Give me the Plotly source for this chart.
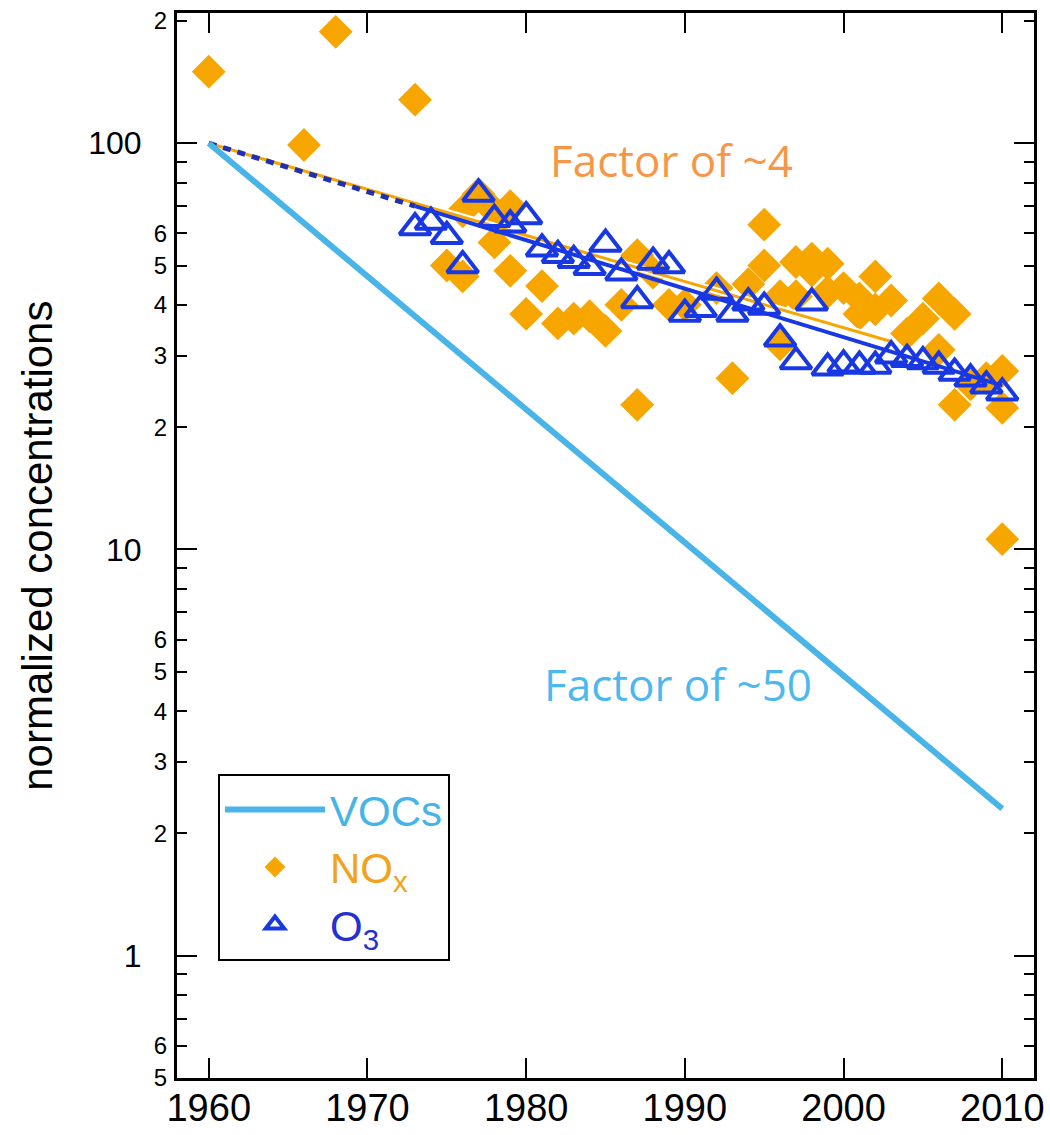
import plotly.graph_objects as go

# ---------------- data ----------------
voc_years = [1960, 2010]
voc_values = [100, 2.3]

nox_years = [1960, 1966, 1968, 1973, 1975, 1976, 1976, 1977, 1978, 1978, 1979, 1979,
             1980, 1981, 1982, 1983, 1984, 1985, 1986, 1987, 1987, 1988, 1989, 1990,
             1992, 1993, 1994, 1995, 1995, 1996, 1996, 1997, 1997, 1998, 1998, 1999,
             1999, 2000, 2001, 2001, 2002, 2002, 2003, 2004, 2005, 2006, 2006, 2007,
             2007, 2008, 2009, 2010, 2010, 2010]
nox_values = [150, 99, 188, 128, 50, 47, 68, 75, 57, 68, 48.5, 70,
              38, 44.5, 36, 37, 37.5, 34.5, 40, 53, 22.7, 48, 40, 40,
              44, 26.4, 45, 63, 50, 42, 32, 51, 42, 48.6, 52, 50.5,
              43, 44, 41.5, 38, 47, 39, 41, 34, 37, 41.5, 31, 38,
              22.7, 25.5, 26.4, 27.5, 22.3, 10.6]

o3_years = [1973, 1974, 1975, 1976, 1977, 1978, 1979, 1980, 1981, 1982, 1983, 1984,
            1985, 1986, 1987, 1988, 1989, 1990, 1991, 1992, 1993, 1994, 1995, 1996,
            1997, 1998, 1999, 2000, 2001, 2002, 2003, 2004, 2005, 2006, 2007, 2008,
            2009, 2010]
o3_values = [62, 64, 59, 50, 75, 65, 63, 66, 55, 53, 51.5, 49.5,
             56.5, 48, 41, 51, 50, 38, 39, 43, 38, 40.5, 39.5, 33,
             29, 40.5, 28, 28.5, 28.3, 28.3, 30, 29.4, 29, 28.3, 27.2, 26.3,
             25.3, 24.3]

nox_fit_years = [1960, 2003]
nox_fit_values = [100, 32.5]
o3_fit_early_years = [1960, 1973]
o3_fit_early_values = [100, 70]
o3_fit_years = [1973, 2010]
o3_fit_values = [70, 25.3]

x_tick_vals = [1960, 1970, 1980, 1990, 2000, 2010]
y_small_label_vals = [0.5, 0.6, 2, 3, 4, 5, 6, 20, 30, 40, 50, 60, 200]
y_small_label_text = ["5", "6", "2", "3", "4", "5", "6", "2", "3", "4", "5", "6", "2"]
y_unlabeled_vals = [0.7, 0.8, 0.9, 7, 8, 9, 70, 80, 90]
y_major_vals = [1, 10, 100]
y_major_text = ["1", "10", "100"]

# ---------------- styles ----------------
C_VOC = "#48B4E8"
C_NOX = "#F7A600"
C_O3 = "#1838E4"
FONT = "Liberation Sans, Arial, sans-serif"

fig = go.Figure()

fig.add_trace(go.Scatter(
    x=voc_years, y=voc_values, mode="lines", yaxis="y2",
    line=dict(color=C_VOC, width=6),
    name='<span style="color:#45B4E6">VOCs</span>', legendrank=1))

fig.add_trace(go.Scatter(
    x=nox_years, y=nox_values, mode="markers",
    marker=dict(symbol="diamond", size=26, color=C_NOX, line=dict(width=0)),
    name='<span style="color:#F2A31E">NO<sub>x</sub></span>', legendrank=2))

fig.add_trace(go.Scatter(
    x=nox_fit_years, y=nox_fit_values, mode="lines",
    line=dict(color="white", width=7), showlegend=False, hoverinfo="skip"))
fig.add_trace(go.Scatter(
    x=nox_fit_years, y=nox_fit_values, mode="lines",
    line=dict(color=C_NOX, width=3), showlegend=False))

fig.add_trace(go.Scatter(
    x=o3_years, y=o3_values, mode="markers",
    marker=dict(symbol="triangle-up-open", size=27, color=C_O3, line=dict(width=4, color=C_O3)),
    name='<span style="color:#2430D0">O<sub>3</sub></span>', legendrank=3))

fig.add_trace(go.Scatter(
    x=o3_fit_years, y=o3_fit_values, mode="lines",
    line=dict(color=C_O3, width=4), showlegend=False))
fig.add_trace(go.Scatter(
    x=o3_fit_early_years, y=o3_fit_early_values, mode="lines",
    line=dict(color="#2030B0", width=5, dash="8px,7px"), showlegend=False))

yrange = [-0.301, 2.3205]

fig.update_layout(
    width=1050, height=1135, autosize=False,
    margin=dict(l=177, r=16, t=13, b=57),
    paper_bgcolor="white", plot_bgcolor="white",
    font=dict(family=FONT, color="black"),
    xaxis=dict(
        range=[1958, 2012], tickmode="array", tickvals=x_tick_vals,
        ticks="inside", ticklen=20, tickwidth=2, tickcolor="black",
        showline=True, linecolor="black", linewidth=3, mirror="ticks",
        showgrid=False, zeroline=False, tickfont=dict(size=38, family=FONT),
        ticklabelstandoff=-6, automargin=False),
    yaxis=dict(
        type="log", range=yrange, tickmode="array",
        tickvals=y_small_label_vals, ticktext=y_small_label_text,
        ticks="inside", ticklen=10, tickwidth=2, tickcolor="black",
        showline=True, linecolor="black", linewidth=3, mirror="ticks",
        showgrid=False, zeroline=False, tickfont=dict(size=24, family=FONT),
        ticklabelstandoff=2, automargin=False,
        minor=dict(tickmode="array", tickvals=y_unlabeled_vals, ticks="inside",
                   ticklen=10, tickwidth=2, tickcolor="black", showgrid=False)),
    yaxis2=dict(
        type="log", range=yrange, overlaying="y", side="left",
        tickmode="array", tickvals=y_major_vals, ticktext=y_major_text,
        ticks="inside", ticklen=20, tickwidth=2, tickcolor="black",
        showline=True, linecolor="black", linewidth=3, mirror="ticks",
        showgrid=False, zeroline=False, tickfont=dict(size=32, family=FONT),
        ticklabelstandoff=26, automargin=False),
    legend=dict(
        x=0.0478, y=0.2858, xanchor="left", yanchor="top",
        bgcolor="white", bordercolor="black", borderwidth=2,
        font=dict(size=42, family=FONT), itemwidth=100,
        tracegroupgap=0),
    showlegend=True,
)

fig.add_annotation(
    text="normalized concentrations", textangle=-90,
    xref="paper", yref="paper", x=-0.163, y=0.5, xanchor="center", yanchor="middle",
    showarrow=False,
    font=dict(size=42, family="Liberation Sans, Arial", color="black"))

fig.add_annotation(
    text="Factor of ~4", xref="paper", yref="paper", x=0.577, y=0.862,
    xanchor="center", yanchor="middle", showarrow=False,
    font=dict(size=44, family="Open Sans, sans-serif", color="#F79646"))
fig.add_annotation(
    text="Factor of ~50", xref="paper", yref="paper", x=0.585, y=0.370,
    xanchor="center", yanchor="middle", showarrow=False,
    font=dict(size=44, family="Open Sans, sans-serif", color="#4DB8EE"))

fig.write_html("out.html", config={"displayModeBar": False})
